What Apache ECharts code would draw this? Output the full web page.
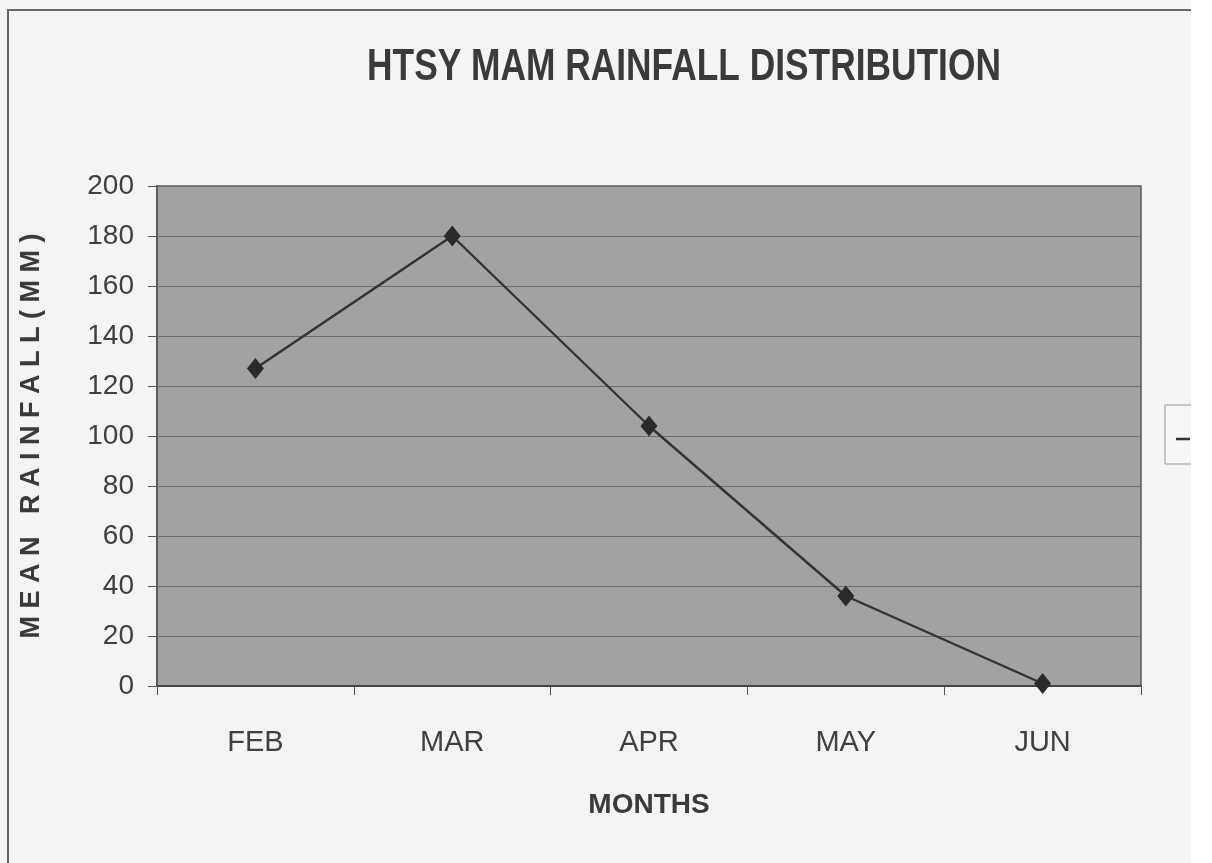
<!DOCTYPE html>
<html>
<head>
<meta charset="utf-8">
<script src="https://cdn.jsdelivr.net/npm/echarts@6/dist/echarts.min.js"></script>
<style>
html,body{margin:0;padding:0;background:#f4f4f4;}
#chart{width:1212px;height:863px;}
</style>
</head>
<body>
<div id="chart"></div>
<script>
const titleText = 'HTSY MAM RAINFALL DISTRIBUTION';
const months = ['FEB', 'MAR', 'APR', 'MAY', 'JUN'];
const rainfall = [127, 180, 104, 36, 1];
const yTicks = [0, 20, 40, 60, 80, 100, 120, 140, 160, 180, 200];

const chart = echarts.init(document.getElementById('chart'));
const sans = '"Liberation Sans", Arial, sans-serif';
chart.setOption({
  backgroundColor: '#f4f4f4',
  animation: false,
  grid: {
    left: 157, right: 71, top: 186, bottom: 177,
    show: true, backgroundColor: '#a2a2a2', borderColor: '#5a5a5a', borderWidth: 1.5
  },
  xAxis: {
    type: 'category', data: months, boundaryGap: true,
    name: 'MONTHS', nameLocation: 'middle', nameGap: 105,
    nameTextStyle: {fontFamily: sans, fontWeight: 'bold', fontSize: 28, color: '#3a3a3a'},
    axisLine: {lineStyle: {color: '#444', width: 2}},
    axisTick: {show: true, length: 9, alignWithLabel: false, lineStyle: {color: '#555'}},
    axisLabel: {fontFamily: sans, fontSize: 29, color: '#404040', margin: 42}
  },
  yAxis: {
    type: 'value', min: yTicks[0], max: yTicks[yTicks.length - 1], interval: yTicks[1] - yTicks[0],
    name: 'M E A N   R A I N F A L L ( M M )', nameLocation: 'middle', nameGap: 112, nameRotate: 90,
    nameTextStyle: {fontFamily: sans, fontWeight: 'bold', fontSize: 27, color: '#3a3a3a'},
    axisLine: {show: true, lineStyle: {color: '#555', width: 1.5}},
    axisTick: {show: true, length: 9, lineStyle: {color: '#555'}},
    axisLabel: {fontFamily: sans, fontSize: 28, color: '#404040', margin: 23},
    splitLine: {show: true, lineStyle: {color: '#6e6e6e', width: 1.2}}
  },
  series: [{
    type: 'line', data: rainfall,
    symbol: 'diamond', symbolSize: [17, 21],
    itemStyle: {color: '#2b2b2b'},
    lineStyle: {color: '#333', width: 2.4}
  }],
  graphic: [
    {type: 'rect', shape: {x: 8, y: 10, width: 1198, height: 870}, style: {fill: 'none', stroke: '#666', lineWidth: 2}, silent: true},
    {type: 'text', x: 684, y: 68, scaleX: 0.785,
     style: {text: titleText, align: 'center', verticalAlign: 'middle',
             font: 'bold 45px "Liberation Sans", Arial, sans-serif', fill: '#3a3a3a'}, silent: true},
    {type: 'rect', shape: {x: 1165, y: 405, width: 40, height: 59}, style: {fill: '#f6f6f6', stroke: '#999', lineWidth: 1}, silent: true},
    {type: 'line', shape: {x1: 1176, y1: 439, x2: 1190, y2: 439}, style: {stroke: '#333', lineWidth: 2.5}, silent: true},
    {type: 'rect', shape: {x: 1191, y: 0, width: 21, height: 863}, style: {fill: '#ffffff'}, silent: true}
  ]
});
</script>
</body>
</html>
